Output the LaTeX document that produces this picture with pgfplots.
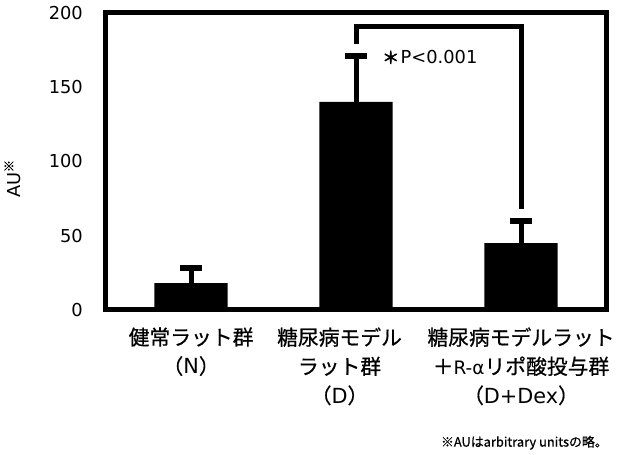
\documentclass[border=0pt]{standalone}
\usepackage{fontspec}
\setmainfont{DejaVu Sans}
\newfontfamily\jp[FakeBold=0.6]{Noto Sans CJK JP}
\newfontfamily\jpb[FakeBold=3]{Noto Sans CJK JP}
\newfontfamily\lat{DejaVu Sans}
\usepackage{pgfplots}
\pgfplotsset{compat=1.18}
\newlength\px
\setlength\px{0.75pt}
\begin{document}
\begin{tikzpicture}
\begin{axis}[
  scale only axis, width=506\px, height=300\px,
  xmin=-0.52, xmax=2.517, ymin=0, ymax=200,
  axis line style={line width=5\px, line cap=rect},
  ytick={0,50,100,150,200},
  xtick={0,0.9,2},
  xticklabels={{健常ラット群\\（{\lat N}）},{糖尿病モデル\\ラット群\\（{\lat D}）},{糖尿病モデルラット\\＋{\lat\fontsize{14}{22}\selectfont R-α}リポ酸投与群\\（{\lat D+Dex}）}},
  major tick length=0pt,
  tick style={draw=none},
  /pgf/number format/assume math mode=true,
  yticklabel style={font=\fontsize{13.5}{16}\selectfont, xshift=-18\px},
  xticklabel style={font=\jp\fontsize{15.75}{22}\selectfont, align=center, yshift=-13\px},
  ylabel={AU\textsuperscript{\jp ※}},
  ylabel style={at={(rel axis cs:-0.185,0.443)}, anchor=center, font=\fontsize{13.5}{16}\selectfont},
  clip=false,
]
\addplot[ybar, bar width=0.444, fill=black, draw=none,
  error bars/.cd, y dir=plus, y explicit,
  error bar style={draw=black, line width=5\px},
  error mark options={rotate=90, draw=black, line width=6\px, mark size=11\px}]
  coordinates {(0,18) +- (0,10) (1,140) +- (0,31) (2,45) +- (0,15)};
\addplot[black, line width=5\px, line join=miter, mark=none]
  coordinates {(1,179) (1,191) (2,191) (2,68)};
\node[anchor=west, font=\fontsize{13.5}{16}\selectfont] at (axis cs:1.13,170) {{\jpb\fontsize{13}{16}\selectfont ＊}\kern1pt P<0.001};
\node[anchor=east, font=\jp\fontsize{9.75}{12}\selectfont] at (rel axis cs:1.012,-0.447) {※AUはarbitrary unitsの略。};
\path[draw=none] (rel axis cs:-0.2036,-0.47) rectangle (rel axis cs:1.0198,1.0433);
\end{axis}
\end{tikzpicture}
\end{document}
